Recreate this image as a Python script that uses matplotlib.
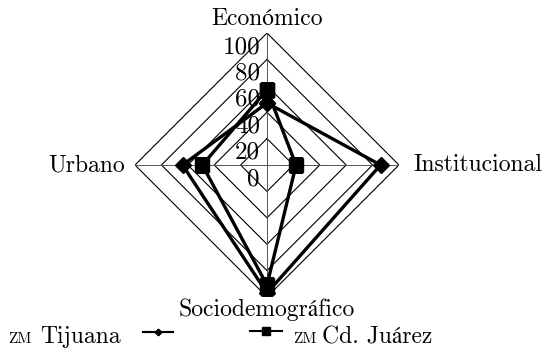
import numpy as np
import matplotlib
matplotlib.use("Agg")
import matplotlib.pyplot as plt

plt.rcParams['font.family'] = ['cmr10', 'STIXGeneral', 'DejaVu Serif']
plt.rcParams['axes.unicode_minus'] = False

# datos
categorias = ['Económico', 'Institucional', 'Sociodemográfico', 'Urbano']
tijuana = [47, 86, 97, 64]
juarez = [57, 22, 91, 49]
niveles = [20, 40, 60, 80, 100]
etiquetas_r = ['0', '20', '40', '60', '80', '100']
series = ['Tijuana', 'Cd. Juárez']

fig = plt.figure(figsize=(5.47, 3.49), dpi=100)
ax = fig.add_axes([0.2468, 0.149, 0.4826, 0.7564], projection='polar')
ax.set_theta_zero_location('N')
ax.set_theta_direction(-1)
ax.set_ylim(0, 100)
ax.axis('off')

ang = np.linspace(0, 2 * np.pi, len(categorias), endpoint=False)
ang_c = np.concatenate([ang, ang[:1]])

# anillos y ejes
for n in niveles:
    ax.plot(ang_c, [n] * len(ang_c), color='black', lw=0.8, zorder=1)
for a in ang:
    ax.plot([a, a], [0, 100], color='#555555', lw=0.7, zorder=1)

# series
l1, = ax.plot(ang_c, tijuana + tijuana[:1], color='black', lw=2.4, marker='D',
              markersize=8, zorder=3)
l2, = ax.plot(ang_c, juarez + juarez[:1], color='black', lw=2.4, marker='s',
              markersize=9.5, zorder=3)

# etiquetas radiales
for v, t in zip([0] + niveles, etiquetas_r):
    ax.annotate(t, xy=(0, v), xytext=(-7, -14), textcoords='offset pixels',
                ha='right', va='center', fontsize=18, zorder=2)

# etiquetas de categorias
fs = 17
ax.annotate(categorias[0], xy=(0, 100), xytext=(0, 3), textcoords='offset pixels',
            ha='center', va='bottom', fontsize=fs)
ax.annotate(categorias[1], xy=(ang[1], 100), xytext=(14, 0), textcoords='offset pixels',
            ha='left', va='center', fontsize=fs)
ax.annotate(categorias[2], xy=(ang[2], 100), xytext=(0, -2), textcoords='offset pixels',
            ha='center', va='top', fontsize=fs)
ax.annotate(categorias[3], xy=(ang[3], 100), xytext=(-10, 0), textcoords='offset pixels',
            ha='right', va='center', fontsize=fs)

# leyenda (solo los simbolos; textos aparte por las versalitas)
leg1 = fig.legend([l1], [''], loc='center left', bbox_to_anchor=(143 / 547, 1 - 334 / 349),
                  frameon=False, handlelength=1.45, markerscale=0.4, fontsize=15,
                  borderpad=0, borderaxespad=0, handletextpad=0)
leg2 = fig.legend([l2], [''], loc='center left', bbox_to_anchor=(250 / 547, 1 - 333 / 349),
                  frameon=False, handlelength=1.55, markerscale=0.55, fontsize=15,
                  borderpad=0, borderaxespad=0, handletextpad=0)
for lg in (leg1, leg2):
    for ln in lg.get_lines():
        ln.set_linewidth(1.5)
fig.add_artist(leg1)

yb = 1 - 343 / 349
fig.text(8 / 547, yb, 'ZM', fontsize=11, ha='left', va='baseline')
fig.text(40 / 547, yb, series[0], fontsize=fs, ha='left', va='baseline')
fig.text(293 / 547, yb, 'ZM', fontsize=11, ha='left', va='baseline')
fig.text(322 / 547, yb, series[1], fontsize=fs, ha='left', va='baseline')

fig.savefig('out.png', dpi=100)
